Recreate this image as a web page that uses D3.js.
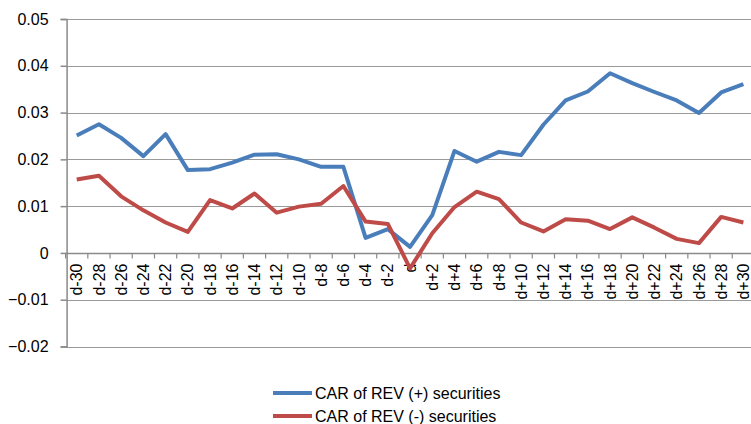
<!DOCTYPE html>
<html>
<head>
<meta charset="utf-8">
<script src="https://cdn.jsdelivr.net/npm/d3@7"></script>
<style>
  body { margin: 0; background: #fff; }
  text { font-family: "Liberation Sans", Arial, sans-serif; fill: #000; }
  .grid line { stroke: #9a9a9a; stroke-width: 1.2; }
  .axis path, .axis line { stroke: #8a8a8a; stroke-width: 1.5; }
  .series { fill: none; stroke-width: 4; stroke-linejoin: round; }
</style>
</head>
<body>
<div id="chart"></div>
<script>
// category labels on the x axis
var days = ["d-30","d-28","d-26","d-24","d-22","d-20","d-18","d-16","d-14","d-12","d-10",
            "d-8","d-6","d-4","d-2","d","d+2","d+4","d+6","d+8","d+10","d+12","d+14",
            "d+16","d+18","d+20","d+22","d+24","d+26","d+28","d+30"];

// CAR of REV (+) securities
var carPos = [0.0251,0.0275,0.0246,0.0207,0.0254,0.0177,0.0179,0.0193,0.0210,0.0211,0.0200,
              0.0184,0.0184,0.0032,0.0051,0.0013,0.0081,0.0218,0.0195,0.0216,0.0209,0.0274,
              0.0326,0.0345,0.0384,0.0363,0.0344,0.0326,0.0299,0.0343,0.0361];

// CAR of REV (-) securities
var carNeg = [0.0157,0.0165,0.0121,0.0091,0.0065,0.0045,0.0113,0.0095,0.0127,0.0086,0.0099,
              0.0105,0.0143,0.0067,0.0062,-0.0033,0.0042,0.0098,0.0131,0.0115,0.0065,0.0046,
              0.0072,0.0069,0.0051,0.0076,0.0054,0.0030,0.0021,0.0077,0.0065];

var yTicks = [-0.02,-0.01,0,0.01,0.02,0.03,0.04,0.05];

var seriesNames = ["CAR of REV (+) securities", "CAR of REV (-) securities"];
var colors = ["#4a7ebb", "#be4b48"];

function init() {
    var w = 751;
    var h = 424;
    var left = 65.6, right = 754.5, top = 19, bottom = 346.5;

    var svg = d3.select("#chart")
                .append("svg")
                .attr("width", w)
                .attr("height", h);

    var xScale = d3.scaleBand()
                   .domain(days)
                   .range([left, right])
                   .padding(0);

    var yScale = d3.scaleLinear()
                   .domain([-0.02, 0.05])
                   .range([bottom, top]);

    // horizontal gridlines
    svg.append("g")
       .attr("class", "grid")
       .selectAll("line")
       .data(yTicks)
       .enter()
       .append("line")
       .attr("x1", left)
       .attr("x2", right)
       .attr("y1", function(d) { return Math.round(yScale(d)) + 0.5; })
       .attr("y2", function(d) { return Math.round(yScale(d)) + 0.5; });

    // y axis
    var yAxis = d3.axisLeft(yScale)
                  .tickValues(yTicks)
                  .tickSize(6)
                  .tickPadding(12)
                  .tickFormat(function(d) { return d === 0 ? "0" : d3.format(".2f")(d); });

    var gy = svg.append("g")
       .attr("class", "axis")
       .attr("transform", "translate(" + (left + 1) + ",0)")
       .call(yAxis);
    gy.selectAll("text").style("font-size", "16px");

    // x axis on the zero line, ticks between categories
    var zeroY = Math.round(yScale(0)) + 0.5;
    svg.append("line")
       .attr("x1", left).attr("x2", right)
       .attr("y1", zeroY).attr("y2", zeroY)
       .attr("stroke", "#8a8a8a")
       .attr("stroke-width", 1.5);

    svg.append("g")
       .selectAll("line")
       .data(d3.range(days.length + 1))
       .enter()
       .append("line")
       .attr("x1", function(i) { return left + i * xScale.bandwidth(); })
       .attr("x2", function(i) { return left + i * xScale.bandwidth(); })
       .attr("y1", zeroY)
       .attr("y2", zeroY + 5)
       .attr("stroke", "#8a8a8a")
       .attr("stroke-width", 1.2);

    svg.append("g")
       .selectAll("text")
       .data(days)
       .enter()
       .append("text")
       .attr("transform", function(d) {
           return "translate(" + (xScale(d) + xScale.bandwidth() / 2) + "," + (zeroY + 10) + ") rotate(-90)";
       })
       .attr("dy", "0.35em")
       .attr("text-anchor", "end")
       .style("font-size", "16px")
       .text(function(d) { return d; });

    // the two lines
    var line = d3.line()
                 .x(function(d, i) { return xScale(days[i]) + xScale.bandwidth() / 2; })
                 .y(function(d) { return yScale(d); });

    [carPos, carNeg].forEach(function(s, k) {
        svg.append("path")
           .datum(s)
           .attr("class", "series")
           .attr("stroke", colors[k])
           .attr("d", line);
    });

    // legend
    var legend = svg.append("g")
                    .selectAll("g")
                    .data(seriesNames)
                    .enter()
                    .append("g")
                    .attr("transform", function(d, i) { return "translate(273," + (393 + i * 23) + ")"; });

    legend.append("line")
          .attr("x1", 0).attr("x2", 39)
          .attr("y1", 0).attr("y2", 0)
          .attr("stroke", function(d, i) { return colors[i]; })
          .attr("stroke-width", 4);

    legend.append("text")
          .attr("x", 42)
          .attr("dy", "0.35em")
          .style("font-size", "16px")
          .text(function(d) { return d; });
}

window.onload = init;
</script>
</body>
</html>
